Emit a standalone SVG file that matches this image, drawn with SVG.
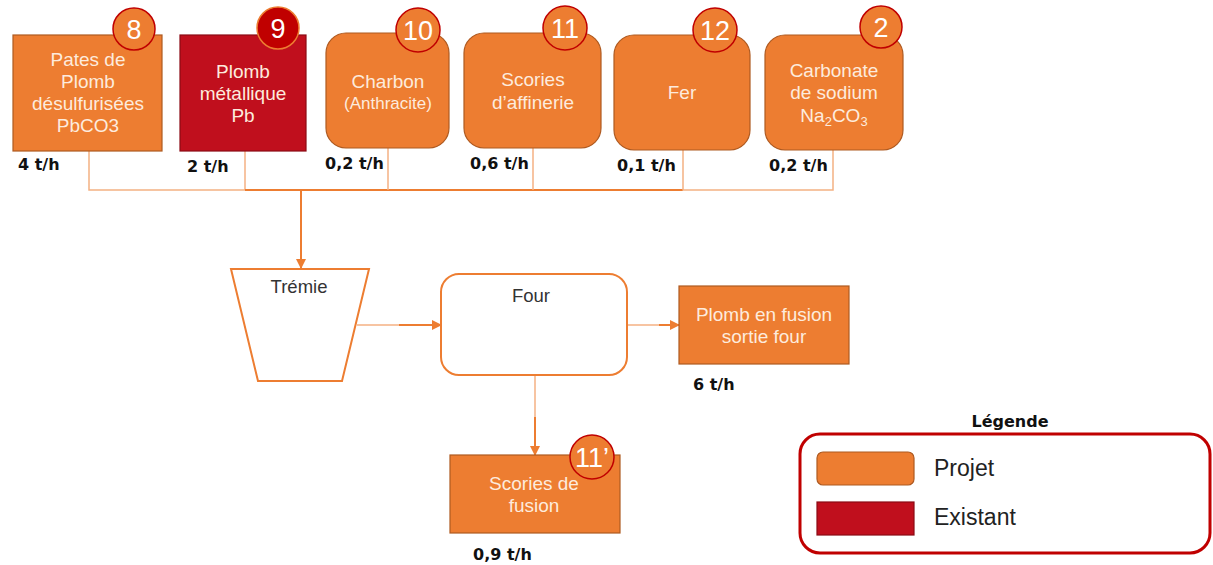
<svg xmlns="http://www.w3.org/2000/svg" width="1213" height="565" viewBox="0 0 1213 565">
<defs>
<style>
.proj{fill:#ED7D31;stroke:#AE5A21;stroke-width:1.2}
.exist{fill:#C00F1D;stroke:#8B0A14;stroke-width:1.2}
.badge{fill:#ED7D31;stroke:#C00000;stroke-width:1.5}
.badgeR{fill:#C00000;stroke:#ED7D31;stroke-width:1.5}
.num{font-family:"Liberation Sans",Arial,sans-serif;font-size:27px;fill:#fff;text-anchor:middle}
.lbl{font-family:"Liberation Sans",Arial,sans-serif;font-size:19px;fill:#FDEBDD;text-anchor:middle}
.small{font-size:17px}
.rate{font-family:"DejaVu Sans",sans-serif;font-size:16px;font-weight:bold;fill:#111}
.dark{font-family:"Liberation Sans",Arial,sans-serif;font-size:18.5px;fill:#333;text-anchor:middle}
.leg{font-family:"Liberation Sans",Arial,sans-serif;font-size:23px;fill:#222}
.out{fill:#fff;stroke:#ED7D31;stroke-width:2}
.conn{fill:none;stroke:#F4B183;stroke-width:1.5}
.connD{fill:none;stroke:#ED7D31;stroke-width:2}
</style>
<marker id="arr" markerWidth="10" markerHeight="10" refX="9" refY="5" orient="auto" markerUnits="userSpaceOnUse">
<path d="M0,0 L10,5 L0,10 Z" fill="#ED7D31"/>
</marker>
</defs>
<rect width="1213" height="565" fill="#fff"/>

<g id="connectors">
<path class="conn" d="M89,151 V190 H302"/>
<path class="conn" d="M245,151 V190"/>
<path class="connD" d="M245,190 H683"/>
<path class="conn" d="M388,148 V190"/>
<path class="conn" d="M533,148 V190"/>
<path class="conn" d="M683,150 V190 H833 V150"/>
<path class="connD" d="M301,190 V268" marker-end="url(#arr)"/>
<path class="conn" d="M357,325 H400"/>
<path class="connD" d="M399,325 H441" marker-end="url(#arr)"/>
<path class="conn" d="M627,325 H660"/>
<path class="connD" d="M659,325 H679" marker-end="url(#arr)"/>
<path class="conn" d="M535,376 V418"/>
<path class="connD" d="M535,417 V455" marker-end="url(#arr)"/>
</g>

<g id="n8">
<rect class="proj" x="13" y="35" width="149" height="116"/>
<circle class="badge" cx="134" cy="29" r="21"/>
<text class="num" x="134" y="39">8</text>
<text class="lbl" x="88" y="66">Pates de</text>
<text class="lbl" x="88" y="88">Plomb</text>
<text class="lbl" x="88" y="110">désulfurisées</text>
<text class="lbl" x="88" y="132">PbCO3</text>
<text class="rate" x="18" y="170">4 t/h</text>
</g>

<g id="n9">
<rect class="exist" x="180" y="35" width="126" height="116"/>
<circle class="badgeR" cx="278" cy="28" r="21"/>
<text class="num" x="278" y="38">9</text>
<text class="lbl" x="243" y="78">Plomb</text>
<text class="lbl" x="243" y="100">métallique</text>
<text class="lbl" x="243" y="122">Pb</text>
<text class="rate" x="187" y="172">2 t/h</text>
</g>

<g id="n10">
<rect class="proj" x="326" y="33" width="123" height="115" rx="20"/>
<circle class="badge" cx="418" cy="30" r="22"/>
<text class="num" x="418" y="40">10</text>
<text class="lbl" x="388" y="88">Charbon</text>
<text class="lbl small" x="388" y="109">(Anthracite)</text>
<text class="rate" x="325" y="169">0,2 t/h</text>
</g>

<g id="n11">
<rect class="proj" x="464" y="33" width="137" height="115" rx="20"/>
<circle class="badge" cx="565" cy="28" r="22"/>
<text class="num" x="565" y="38">11</text>
<text class="lbl" x="533" y="86">Scories</text>
<text class="lbl" x="533" y="109">d’affinerie</text>
<text class="rate" x="470" y="169">0,6 t/h</text>
</g>

<g id="n12">
<rect class="proj" x="614" y="35" width="136" height="115" rx="20"/>
<circle class="badge" cx="715" cy="30" r="22"/>
<text class="num" x="715" y="40">12</text>
<text class="lbl" x="682" y="99">Fer</text>
<text class="rate" x="617" y="171">0,1 t/h</text>
</g>

<g id="n2">
<rect class="proj" x="765" y="35" width="138" height="115" rx="20"/>
<circle class="badge" cx="881" cy="27" r="21"/>
<text class="num" x="881" y="37">2</text>
<text class="lbl" x="834" y="77">Carbonate</text>
<text class="lbl" x="834" y="99">de sodium</text>
<text class="lbl" x="834" y="122">Na<tspan font-size="13" dy="4">2</tspan><tspan dy="-4">CO</tspan><tspan font-size="13" dy="4">3</tspan></text>
<text class="rate" x="769" y="171">0,2 t/h</text>
</g>

<g id="tremie">
<polygon class="out" points="231,269 369,269 342,381 258,381"/>
<text class="dark" x="299" y="293">Trémie</text>
</g>

<g id="four">
<rect class="out" x="441" y="274" width="186" height="101" rx="18"/>
<text class="dark" x="531" y="302">Four</text>
</g>

<g id="plomb-fusion">
<rect class="proj" x="679" y="286" width="170" height="78"/>
<text class="lbl" x="764" y="321">Plomb en fusion</text>
<text class="lbl" x="764" y="343">sortie four</text>
<text class="rate" x="693" y="390">6 t/h</text>
</g>

<g id="scories-fusion">
<rect class="proj" x="450" y="455" width="170" height="78"/>
<circle class="badge" cx="592" cy="457" r="22"/>
<text class="num" x="592" y="467">11’</text>
<text class="lbl" x="534" y="490">Scories de</text>
<text class="lbl" x="534" y="512">fusion</text>
<text class="rate" x="473" y="560">0,9 t/h</text>
</g>

<g id="legende">
<text class="rate" x="1010" y="427" text-anchor="middle" font-size="17">Légende</text>
<rect x="800" y="434" width="410" height="119" rx="20" fill="none" stroke="#C00000" stroke-width="3"/>
<rect class="proj" x="817" y="452" width="97" height="33" rx="6"/>
<text class="leg" x="934" y="476">Projet</text>
<rect class="exist" x="817" y="502" width="97" height="33"/>
<text class="leg" x="934" y="525">Existant</text>
</g>
</svg>
